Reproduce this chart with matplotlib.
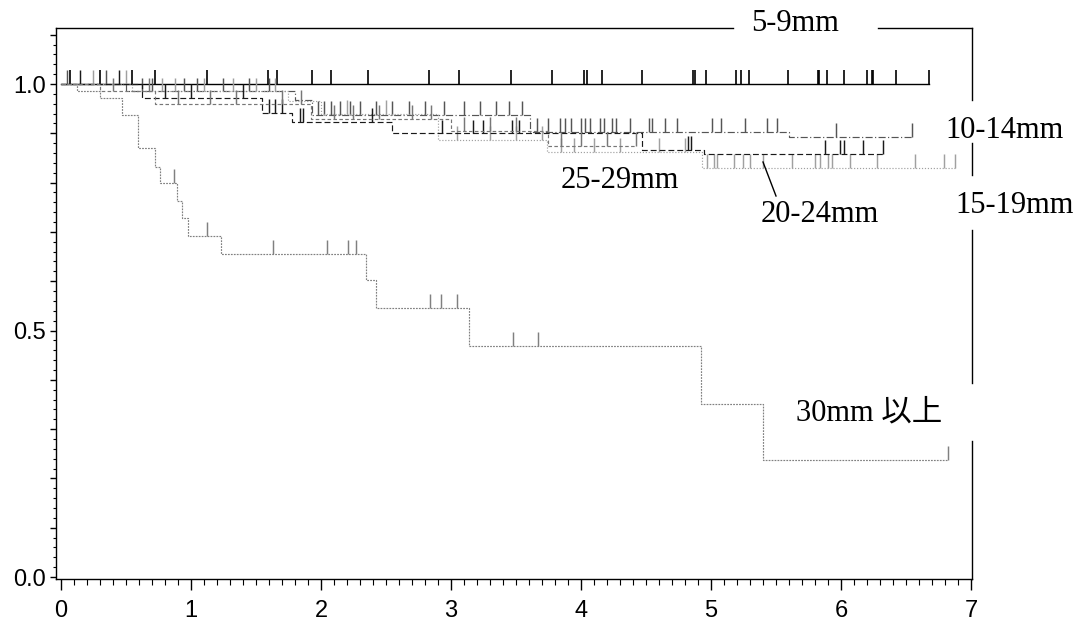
import numpy as np
import matplotlib
matplotlib.use("Agg")
import matplotlib.pyplot as plt
from matplotlib.ticker import MultipleLocator, FixedLocator, FixedFormatter

# survival step curves: drop times, survival after each drop, last follow-up, censor times
t_59 = [0.0]
s_59 = [1.0]
end_59 = 6.68
c_59 = [0.07, 0.3, 0.55, 0.72, 1.12, 1.59, 1.66, 1.93, 2.08, 2.36, 2.83, 3.06, 3.46,
        3.78, 4.02, 4.05, 4.16, 4.47, 4.86, 4.88, 4.96, 5.19, 5.23, 5.29, 5.59, 5.82,
        5.83, 5.89, 6.02, 6.2, 6.24, 6.25, 6.42, 6.68]

t_1014 = [0.0, 0.5, 1.8, 1.93, 3.61, 5.6]
s_1014 = [1.0, 0.985, 0.968, 0.937, 0.903, 0.892]
end_1014 = 6.55
c_1014 = [0.05, 0.35, 0.62, 0.7, 0.95, 1.05, 1.25, 1.45, 1.6, 1.98, 2.02, 2.08, 2.15,
          2.22, 2.3, 2.42, 2.55, 2.68, 2.8, 2.95, 3.1, 3.22, 3.35, 3.45, 3.55, 3.66,
          3.75, 3.84, 3.88, 3.92, 4.0, 4.03, 4.07, 4.15, 4.18, 4.24, 4.27, 4.38, 4.52,
          4.55, 4.65, 4.74, 5.01, 5.08, 5.26, 5.43, 5.51, 5.96, 6.55]

t_1519 = [0.0, 0.55, 1.75, 2.0, 2.9, 3.74, 4.93]
s_1519 = [1.0, 0.985, 0.965, 0.94, 0.886, 0.862, 0.83]
end_1519 = 6.88
c_1519 = [0.25, 0.5, 0.78, 0.88, 1.1, 1.32, 1.5, 1.65, 2.2, 2.5, 3.05, 3.3, 3.5, 3.7,
          3.85, 3.95, 4.1, 4.3, 4.6, 4.8, 4.97, 5.02, 5.05, 5.18, 5.25, 5.3, 5.4,
          5.62, 5.8, 5.84, 5.9, 5.93, 6.07, 6.28, 6.57, 6.79, 6.88]

t_2024 = [0.0, 0.62, 1.55, 1.78, 2.55, 4.47, 4.95]
s_2024 = [1.0, 0.972, 0.941, 0.923, 0.90, 0.866, 0.858]
end_2024 = 6.32
c_2024 = [0.15, 0.45, 0.8, 1.0, 1.4, 1.6, 1.65, 1.7, 1.84, 1.86, 2.39, 2.93, 3.17,
          3.25, 3.47, 3.52, 4.82, 4.85, 5.88, 5.99, 6.02, 6.17, 6.32]

t_2529 = [0.0, 0.3, 0.72, 1.92, 3.0, 3.75]
s_2529 = [1.0, 0.985, 0.96, 0.93, 0.905, 0.875]
end_2529 = 4.42
c_2529 = [0.4, 0.68, 0.9, 1.15, 1.35, 1.7, 1.85, 2.1, 2.25, 2.45, 2.7, 2.85, 3.1,
          3.3, 3.5, 3.85, 4.0, 4.2, 4.42]

t_30 = [0.0, 0.12, 0.3, 0.47, 0.59, 0.72, 0.76, 0.89, 0.93, 0.98, 1.23, 2.35, 2.42,
        3.14, 4.92, 5.40]
s_30 = [1.0, 0.986, 0.972, 0.937, 0.870, 0.832, 0.799, 0.763, 0.728, 0.692, 0.655,
        0.602, 0.546, 0.469, 0.351, 0.237]
end_30 = 6.82
c_30 = [0.87, 1.12, 1.63, 2.05, 2.21, 2.27, 2.84, 2.92, 3.05, 3.48, 3.67, 6.82]

curves = [
    (t_59, s_59, end_59, c_59, dict(color="black", lw=1.0, ls="-")),
    (t_1014, s_1014, end_1014, c_1014, dict(color="#555555", lw=0.85, ls=(0, (6, 2, 1, 2)))),
    (t_1519, s_1519, end_1519, c_1519, dict(color="#a0a0a0", lw=0.85, ls=(0, (1, 1.5)))),
    (t_2024, s_2024, end_2024, c_2024, dict(color="#1a1a1a", lw=0.85, ls=(0, (5, 2.5)))),
    (t_2529, s_2529, end_2529, c_2529, dict(color="#777777", lw=0.85, ls=(0, (3, 2)))),
    (t_30, s_30, end_30, c_30, dict(color="#808080", lw=0.85, ls=(0, (1.5, 1)))),
]

W, H = 1087, 625
fig = plt.figure(figsize=(W / 100, H / 100), dpi=100)
ax = fig.add_axes([56 / W, 1 - 579 / H, (972 - 56) / W, (579 - 28) / H])

tick_h = 0.028
for t, s, end, cens, st in curves:
    xs = np.r_[t, end]
    ys = np.r_[s, s[-1]]
    ax.step(xs, ys, where="post", **st)
    idx = np.searchsorted(t, cens, side="right") - 1
    lev = np.asarray(s)[idx]
    ax.vlines(cens, lev, lev + tick_h, color=st["color"], lw=st["lw"] + 0.2)

ax.set_xlim(-0.038, 7.008)
ax.set_ylim(-0.004, 1.1136)

for side in ["top", "right"]:
    ax.spines[side].set_visible(False)
for side in ["left", "bottom"]:
    ax.spines[side].set_linewidth(1.0)

# top/right frame with gaps where labels sit
ax.plot([0, 0.739], [1, 1], color="black", lw=1.0, transform=ax.transAxes, clip_on=False)
ax.plot([0.897, 1], [1, 1], color="black", lw=1.0, transform=ax.transAxes, clip_on=False)
for y0, y1 in [(0.869, 1.0), (0.733, 0.791), (0.356, 0.633), (0.0, 0.250)]:
    ax.plot([1, 1], [y0, y1], color="black", lw=1.0, transform=ax.transAxes, clip_on=False)

ax.xaxis.set_major_locator(MultipleLocator(1))
ax.xaxis.set_minor_locator(MultipleLocator(0.1))
yt = np.round(np.arange(0, 1.11, 0.1), 1)
ax.yaxis.set_major_locator(FixedLocator(yt))
ax.yaxis.set_major_formatter(FixedFormatter(["0.0" if v == 0 else "0.5" if v == 0.5 else "1.0" if v == 1.0 else "" for v in yt]))
ax.yaxis.set_minor_locator(MultipleLocator(0.02))

ax.tick_params(axis="x", which="major", length=8, width=1, pad=7, labelsize=17)
ax.tick_params(axis="x", which="minor", length=4, width=0.8)
ax.tick_params(axis="y", which="major", length=4, width=1, pad=3, labelsize=17)
ax.tick_params(axis="y", which="minor", length=2, width=0.8)
for lab in ax.get_xticklabels() + ax.get_yticklabels():
    lab.set_family("Liberation Sans")

# curve labels
serif = ["Liberation Serif", "Noto Sans CJK JP", "DejaVu Serif"]
labels = [("5-9mm", 795, 31), ("10-14mm", 1005, 138), ("15-19mm", 1015, 213),
          ("25-29mm", 620, 188), ("20-24mm", 820, 222), ("30mm 以上", 869, 420)]
for txt, px, py in labels:
    fig.text(px / W, 1 - py / H, txt, ha="center", va="baseline", fontsize=22, family=serif)

# pointer for 20-24mm
fig.add_artist(plt.Line2D([763 / W, 776 / W], [1 - 162 / H, 1 - 196 / H], color="black", lw=1.0))

fig.savefig("out.png", dpi=100)
